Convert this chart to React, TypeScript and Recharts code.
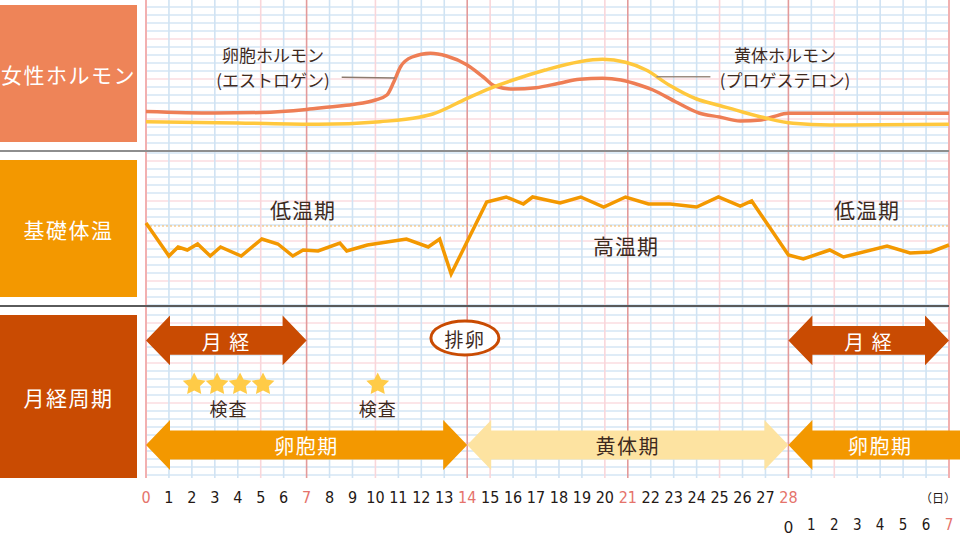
import React from "react";
import {
  ComposedChart,
  Line,
  Scatter,
  XAxis,
  YAxis,
  CartesianGrid,
  ReferenceLine,
  ReferenceArea,
  ReferenceDot,
} from "recharts";

// 日数（0〜28 と次の周期の 0〜7）
const days = Array.from({ length: 36 }, (_, i) => i);

// 卵胞ホルモン（エストロゲン）相対レベル
const estrogenDays = [0, 3, 5, 7, 8, 9, 10, 10.5, 10.8, 11.1, 11.6, 12.4, 13.1, 14, 14.7, 15.2, 16, 17, 18, 18.9, 19.9, 20.7, 21.5, 22.1, 23.1, 24.1, 25, 25.9, 26.8, 27.3, 28, 35];
const estrogenLevels = [38.5, 37, 37.5, 40.5, 43, 45.5, 50, 55, 68, 83.5, 93, 96.7, 94, 85, 73, 64, 61, 62.3, 66.7, 70.7, 71.7, 70, 65, 60, 48, 37, 33, 29, 30, 33, 36.7, 36.7];

// 黄体ホルモン（プロゲステロン）相対レベル
const progesteroneDays = [0, 4, 7.5, 10.2, 11.9, 12.5, 14, 15, 16, 17.4, 18.9, 19.9, 20.9, 21.8, 22.8, 24, 25, 26, 27, 28.2, 29.8, 35];
const progesteroneLevels = [28.3, 27, 25.7, 28.3, 32.7, 36, 51.7, 61.7, 70, 80, 88.3, 90.7, 87.7, 80, 65, 51, 44.5, 38, 32, 26.7, 25, 25.7];

// 基礎体温（℃）
const tempDays = [0, 1, 1.4, 1.8, 2.25, 2.8, 3.25, 4.15, 5.05, 5.75, 6.4, 6.85, 7.5, 8.45, 8.75, 9.65, 11.35, 12.3, 12.8, 13.3, 14.85, 15.7, 16.45, 16.85, 18.05, 18.95, 19.95, 20.9, 21.9, 22.85, 24, 24.95, 25.9, 26.4, 28, 28.65, 29.8, 30.4, 32.3, 33.3, 34.2, 35];
const tempValues = [36.73, 36.4, 36.49, 36.46, 36.52, 36.4, 36.49, 36.4, 36.57, 36.52, 36.4, 36.46, 36.45, 36.53, 36.45, 36.51, 36.57, 36.49, 36.57, 36.22, 36.94, 36.99, 36.92, 36.99, 36.93, 36.99, 36.89, 36.99, 36.92, 36.92, 36.89, 36.99, 36.9, 36.95, 36.41, 36.37, 36.46, 36.39, 36.5, 36.43, 36.44, 36.51];
const baseTemp = 36.7;

// 月経周期
const mensesRanges = [[0, 7], [28, 35]];
const phaseNames = ["卵胞期", "黄体期", "卵胞期"];
const phaseRanges = [[0, 14], [14, 28], [28, 36]];
const testDays = [2.1, 3.1, 4.1, 5.1, 10.1];
const testLabelDays = [3.6, 10.1];
const ovulationDay = 13.9;

const panelLabels = ["女性ホルモン", "基礎体温", "月経周期"];

const estrogen = estrogenDays.map((day, i) => ({ day, level: estrogenLevels[i] }));
const progesterone = progesteroneDays.map((day, i) => ({ day, level: progesteroneLevels[i] }));
const temperature = tempDays.map((day, i) => ({ day, temp: tempValues[i] }));

const FONT = "'Noto Sans CJK JP', 'Noto Sans', sans-serif";
const NUM_FONT = "'Liberation Sans Narrow', 'DejaVu Sans Condensed', Roboto, sans-serif";
const INK = "#3e2a1e";
const RED = "#E5736B";
const MARGIN = { top: 0, right: 11, bottom: 0, left: 146 };

// rows of the cycle panel (y axis 0..10)
const MENSES_ROW = 8;
const STAR_ROW = 5.5;
const TEST_ROW = 4.07;
const PHASE_ROW = 1.92;
const ARROW_HALF = 1.45;

const dayKind = (d: number) =>
  d === 0 || d === 35 ? "edge" : d % 7 === 0 ? "week" : d % 5 === 0 ? "five" : "day";

const vGen = (kind: string) => ({ xAxis, offset }: any) =>
  days
    .filter((d) => dayKind(d) === kind)
    .map((d) =>
      typeof xAxis?.scale === "function" ? xAxis.scale(d) : offset.left + (d / 35) * offset.width
    );

const hRows = (start: number, count: number, phase: number, pink: boolean) =>
  Array.from({ length: count }, (_, k) => k)
    .filter((k) => (k % 5 === phase) === pink)
    .map((k) => start + 8 * k);

const grids = (start: number, count: number, phase: number) => [
  <CartesianGrid key="hb" vertical={false} horizontalPoints={hRows(start, count, phase, false)} stroke="#D5E6F4" strokeWidth={1.3} />,
  <CartesianGrid key="hp" vertical={false} horizontalPoints={hRows(start, count, phase, true)} stroke="#FBDDE0" strokeWidth={1.3} />,
  <CartesianGrid key="vd" horizontal={false} verticalCoordinatesGenerator={vGen("day")} stroke="#D0E3F3" strokeWidth={1.6} />,
  <CartesianGrid key="vf" horizontal={false} verticalCoordinatesGenerator={vGen("five")} stroke="#F9D6DA" strokeWidth={1.6} />,
  <CartesianGrid key="vw" horizontal={false} verticalCoordinatesGenerator={vGen("week")} stroke="#E39A9A" strokeWidth={1.6} />,
  <CartesianGrid key="ve" horizontal={false} verticalCoordinatesGenerator={vGen("edge")} stroke="#F2B0B0" strokeWidth={2} />,
];

const HEAD = 24;
const arrowShape = (fill: string, text: string, color: string, left: boolean, right: boolean) => (p: any) => {
  const { x, y, width: w, height: h } = p;
  const cy = y + h / 2;
  const s = h * 0.29;
  const pts: number[][] = [];
  if (left) pts.push([x, cy], [x + HEAD, y], [x + HEAD, cy - s]);
  else pts.push([x, cy - s]);
  if (right) pts.push([x + w - HEAD, cy - s], [x + w - HEAD, y], [x + w, cy], [x + w - HEAD, y + h], [x + w - HEAD, cy + s]);
  else pts.push([x + w, cy - s], [x + w, cy + s]);
  if (left) pts.push([x + HEAD, cy + s], [x + HEAD, y + h]);
  else pts.push([x, cy + s]);
  return (
    <g>
      <polygon points={pts.map((q) => q.join(",")).join(" ")} fill={fill} />
      <text x={x + w / 2} y={cy + 1} textAnchor="middle" dominantBaseline="central" fill={color} fontSize={20} letterSpacing={1.5} fontFamily={FONT}>
        {text}
      </text>
    </g>
  );
};

const Star = (p: any) => {
  const R = 12;
  const r = 6;
  const pts = Array.from({ length: 10 }, (_, i) => {
    const a = ((-90 + i * 36) * Math.PI) / 180;
    const rad = i % 2 ? r : R;
    return `${p.cx + rad * Math.cos(a)},${p.cy + 1 + rad * Math.sin(a)}`;
  }).join(" ");
  return <polygon points={pts} fill="#FFCB47" />;
};

const textShape = (text: string, size: number, color = INK, spacing = 1) => (p: any) => (
  <text x={p.cx} y={p.cy} textAnchor="middle" dominantBaseline="central" fontSize={size} fill={color} letterSpacing={spacing} fontFamily={FONT}>
    {text}
  </text>
);

const noteShape = (l1: string, l2: string) => (p: any) => (
  <g fontFamily={FONT} fontSize={17} fill={INK}>
    <text x={p.cx} y={p.cy - 12.7} textAnchor="middle" dominantBaseline="central">{l1}</text>
    <text x={p.cx} y={p.cy + 12.7} textAnchor="middle" dominantBaseline="central">{l2}</text>
  </g>
);

const Ovulation = (p: any) => (
  <g>
    <ellipse cx={p.cx} cy={p.cy} rx={34} ry={17} fill="#fff" stroke="#C94B02" strokeWidth={3} />
    <text x={p.cx} y={p.cy + 1} textAnchor="middle" dominantBaseline="central" fontSize={19} letterSpacing={1.5} fill={INK} fontFamily={FONT}>
      排卵
    </text>
  </g>
);

const DayTick = (props: any) => {
  const { x, y, payload } = props;
  const d = payload.value as number;
  return (
    <g fontFamily={NUM_FONT} textAnchor="middle">
      {d <= 28 && (
        <text x={x} y={y + 19} fontSize={16} dominantBaseline="central" fill={d % 7 === 0 ? RED : "#231815"}>
          {d}
        </text>
      )}
      {d === 35 && (
        <text x={x - 11} y={y + 19} fontSize={12} dominantBaseline="central" fill="#231815" fontFamily={FONT}>
          （日）
        </text>
      )}
      {d >= 28 && (
        <text
          x={x}
          y={y + 47}
          fontSize={d === 28 ? 17 : 15}
          dominantBaseline="central"
          fill={d === 35 ? RED : "#231815"}
          fontFamily={d === 28 ? FONT : NUM_FONT}
        >
          {d - 28}
        </text>
      )}
    </g>
  );
};

const boxColors = ["#EE8458", "#F39800", "#C94B02"];
const boxLayout = [
  { top: 5, height: 137 },
  { top: 160, height: 137 },
  { top: 315, height: 163 },
];

export default function App() {
  return (
    <div style={{ position: "absolute", left: 0, top: 0, width: 960, height: 540, background: "#fff", fontFamily: FONT, overflow: "hidden" }}>
      {/* 女性ホルモン */}
      <div style={{ position: "absolute", left: 0, top: 0 }}>
        <ComposedChart width={960} height={151} margin={MARGIN}>
          {grids(7, 18, 4)}
          <XAxis type="number" dataKey="day" domain={[0, 35]} hide />
          <YAxis type="number" domain={[-1, 150]} hide />
          <Line data={estrogen} dataKey="level" type="monotone" stroke="#EE7E55" strokeWidth={3.5} dot={false} activeDot={false} isAnimationActive={false} />
          <Line data={progesterone} dataKey="level" type="monotone" stroke="#FFC83D" strokeWidth={3.5} dot={false} activeDot={false} isAnimationActive={false} />
          <ReferenceLine segment={[{ x: 8.53, y: 72.7 }, { x: 10.85, y: 72 }]} stroke="#8d7a6e" strokeWidth={1.4} />
          <ReferenceLine segment={[{ x: 22.25, y: 73.3 }, { x: 24.6, y: 73.3 }]} stroke="#9c8b80" strokeWidth={1.6} />
          <ReferenceDot x={5.54} y={83.3} r={0} shape={noteShape("卵胞ホルモン", "(エストロゲン)")} />
          <ReferenceDot x={27.85} y={83.3} r={0} shape={noteShape("黄体ホルモン", "(プロゲステロン)")} />
        </ComposedChart>
      </div>

      {/* 基礎体温 */}
      <div style={{ position: "absolute", left: 0, top: 151 }}>
        <ComposedChart width={960} height={155} margin={MARGIN}>
          {grids(2, 20, 1)}
          <XAxis type="number" dataKey="day" domain={[0, 35]} hide />
          <YAxis type="number" domain={[35.9, 37.45]} hide />
          <ReferenceLine y={baseTemp} stroke="#F7B65C" strokeDasharray="2 2" strokeWidth={1} />
          <Line data={temperature} dataKey="temp" type="linear" stroke="#F39800" strokeWidth={3.5} dot={false} activeDot={false} isAnimationActive={false} />
          <ReferenceDot x={6.84} y={36.87} r={0} shape={textShape("低温期", 21)} />
          <ReferenceDot x={31.43} y={36.87} r={0} shape={textShape("低温期", 21)} />
          <ReferenceDot x={20.92} y={36.51} r={0} shape={textShape("高温期", 21)} />
        </ComposedChart>
      </div>

      {/* 月経周期 */}
      <div style={{ position: "absolute", left: 0, top: 306 }}>
        <ComposedChart width={960} height={234} margin={MARGIN}>
          {grids(1, 22, 2)}
          <XAxis
            type="number"
            dataKey="day"
            domain={[0, 35]}
            ticks={days}
            interval={0}
            height={62}
            axisLine={false}
            tickLine={false}
            tickSize={0}
            tickMargin={0}
            tick={<DayTick />}
          />
          <YAxis type="number" domain={[0, 10]} hide />
          {mensesRanges.map(([a, b], i) => (
            <ReferenceArea
              key={`m${i}`}
              x1={a}
              x2={b}
              y1={MENSES_ROW - ARROW_HALF}
              y2={MENSES_ROW + ARROW_HALF}
              ifOverflow="visible"
              shape={arrowShape("#C94B02", "月 経", "#fff", true, true)}
            />
          ))}
          {phaseRanges.map(([a, b], i) => (
            <ReferenceArea
              key={`p${i}`}
              x1={a}
              x2={b}
              y1={PHASE_ROW - ARROW_HALF}
              y2={PHASE_ROW + ARROW_HALF}
              ifOverflow="visible"
              shape={arrowShape(
                i === 1 ? "#FDE3A1" : "#F39800",
                phaseNames[i],
                i === 1 ? INK : "#fff",
                true,
                i < 2
              )}
            />
          ))}
          <Scatter data={testDays.map((day) => ({ day, row: STAR_ROW }))} dataKey="row" shape={Star} isAnimationActive={false} />
          {testLabelDays.map((d, i) => (
            <ReferenceDot key={`t${i}`} x={d} y={TEST_ROW} r={0} shape={textShape("検査", 18)} />
          ))}
          <ReferenceDot x={ovulationDay} y={8.14} r={0} shape={Ovulation} />
        </ComposedChart>
      </div>

      {/* separators */}
      <div style={{ position: "absolute", left: 0, top: 150, width: 949, height: 2, background: "#8E8E8E" }} />
      <div style={{ position: "absolute", left: 0, top: 305, width: 949, height: 1.5, background: "#5A5A5A" }} />

      {/* panel labels */}
      {panelLabels.map((label, i) => (
        <div
          key={label}
          style={{
            position: "absolute",
            left: 0,
            top: boxLayout[i].top,
            width: 137,
            height: boxLayout[i].height,
            background: boxColors[i],
            color: "#fff",
            fontSize: 21,
            letterSpacing: 1.5,
            display: "flex",
            alignItems: "center",
            justifyContent: "center",
            whiteSpace: "nowrap",
          }}
        >
          {label}
        </div>
      ))}
    </div>
  );
}
